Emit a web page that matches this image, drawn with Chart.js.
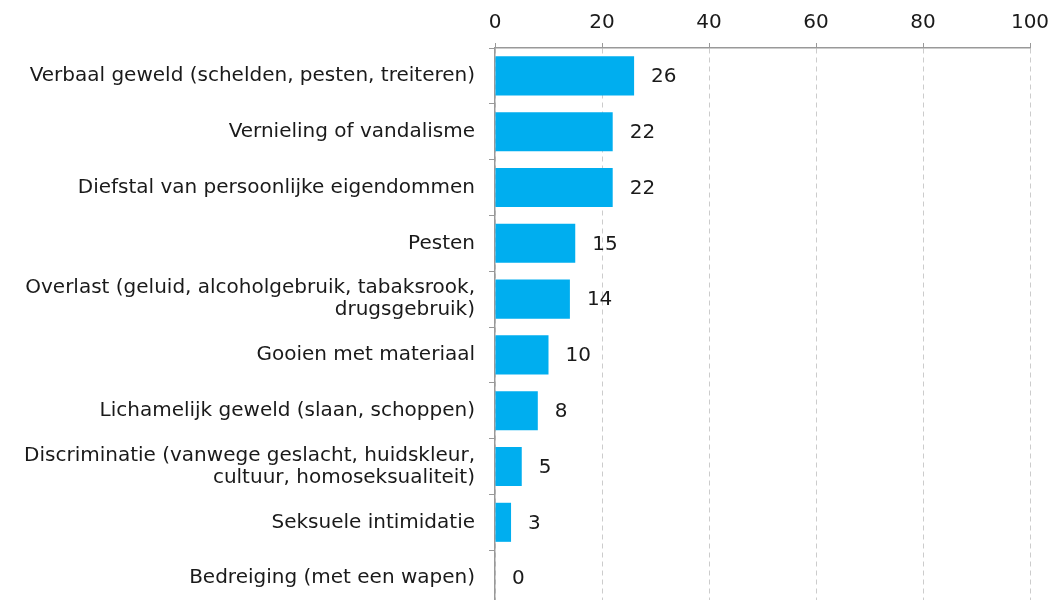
<!DOCTYPE html>
<html>
<head>
<meta charset="utf-8">
<script src="https://cdn.jsdelivr.net/npm/chart.js@4"></script>
<style>
  html, body { margin: 0; padding: 0; background: #fff; overflow: hidden; }
</style>
</head>
<body>
<canvas id="myChart" width="1050" height="631"></canvas>
<script>
// data
const categories = [
  "Verbaal geweld (schelden, pesten, treiteren)",
  "Vernieling of vandalisme",
  "Diefstal van persoonlijke eigendommen",
  "Pesten",
  ["Overlast (geluid, alcoholgebruik, tabaksrook,", "drugsgebruik)"],
  "Gooien met materiaal",
  "Lichamelijk geweld (slaan, schoppen)",
  ["Discriminatie (vanwege geslacht, huidskleur,", "cultuur, homoseksualiteit)"],
  "Seksuele intimidatie",
  "Bedreiging (met een wapen)"
];
const values = [26, 22, 22, 15, 14, 10, 8, 5, 3, 0];
const xTicks = [0, 20, 40, 60, 80, 100];

const ctx = document.getElementById('myChart');
const fontFamily = "DejaVu Sans";
const fontSize = 20;

// labels naast de balken
const valueLabels = {
  id: 'valueLabels',
  afterDatasetsDraw(chart) {
    const c = chart.ctx;
    const meta = chart.getDatasetMeta(0);
    c.save();
    c.font = fontSize + "px '" + fontFamily + "'";
    c.fillStyle = "#1a1a1a";
    c.textAlign = "left";
    c.textBaseline = "middle";
    meta.data.forEach((bar, i) => {
      c.fillText(String(values[i]), bar.x + 17, bar.y + 1);
    });
    c.restore();
  }
};

new Chart(ctx, {
  type: 'bar',
  data: {
    labels: categories,
    datasets: [{
      data: values,
      backgroundColor: '#00aeef',
      barPercentage: 0.7,
      categoryPercentage: 1
    }]
  },
  plugins: [valueLabels],
  options: {
    indexAxis: 'y',
    responsive: false,
    animation: false,
    layout: { padding: { left: 0, right: 20, top: 0, bottom: 0 } },
    plugins: {
      legend: { display: false },
      tooltip: { enabled: false }
    },
    scales: {
      x: {
        position: 'top',
        min: 0,
        max: 100,
        afterBuildTicks: (scale) => { scale.ticks = xTicks.map(v => ({ value: v })); },
        afterFit: (scale) => {
          scale.height = 48;
          scale.paddingRight = 0;
          scale.paddingLeft = 0;
        },
        ticks: {
          color: '#1a1a1a',
          font: { family: fontFamily, size: fontSize },
          padding: 8
        },
        grid: {
          color: '#cccccc',
          tickColor: '#999999',
          tickLength: 5
        },
        border: { color: '#999999', width: 1.5, dash: [5, 4] }
      },
      y: {
        afterFit: (scale) => { scale.width = 495; },
        ticks: {
          color: '#1a1a1a',
          font: { family: fontFamily, size: fontSize, lineHeight: 1.1 },
          padding: 14,
          autoSkip: false
        },
        grid: {
          offset: true,
          drawOnChartArea: false,
          color: '#999999',
          tickLength: 6
        },
        border: { color: '#999999', width: 1.5 }
      }
    }
  }
});
</script>
</body>
</html>
